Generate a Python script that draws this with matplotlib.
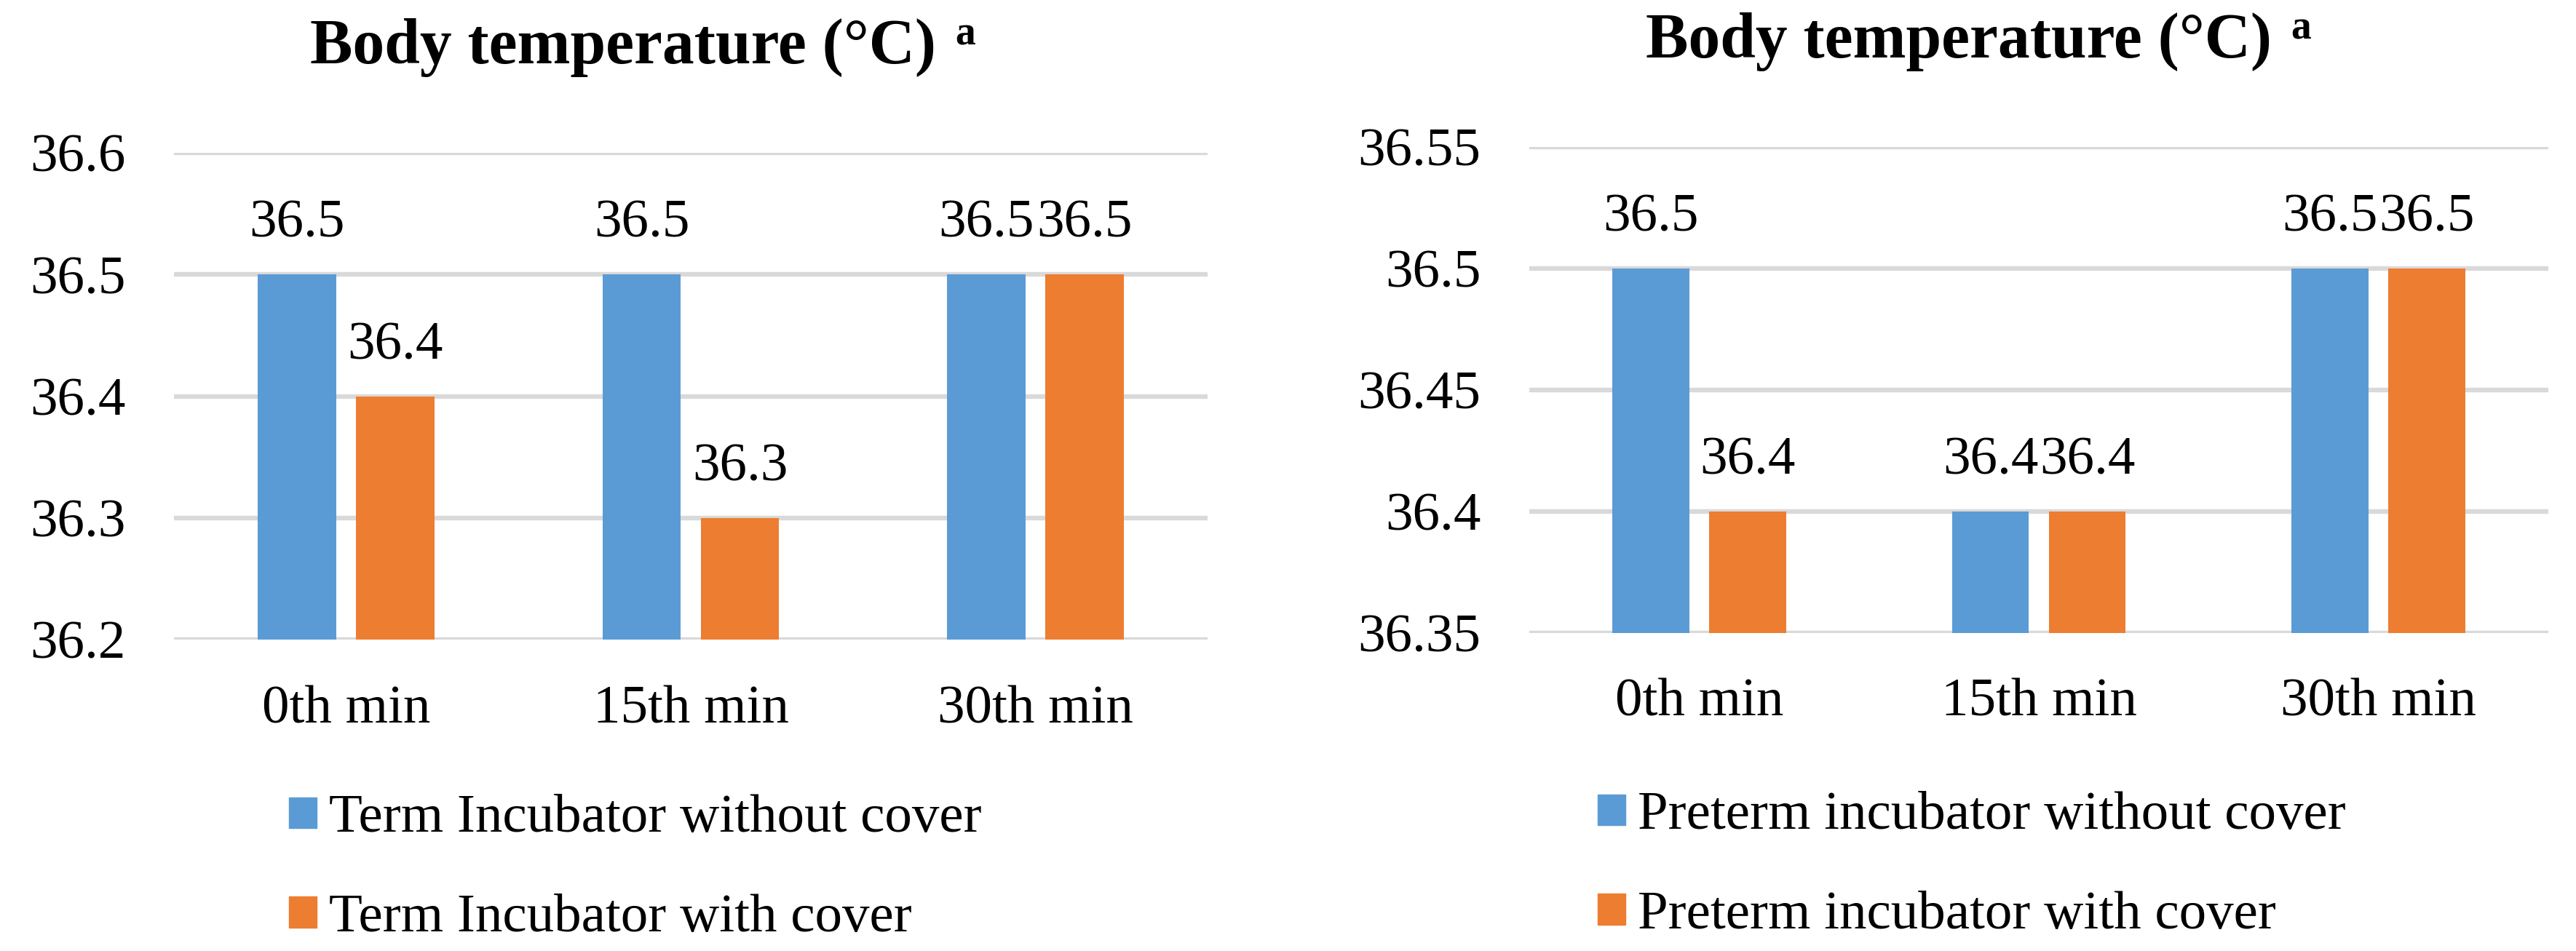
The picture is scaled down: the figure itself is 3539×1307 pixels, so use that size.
import numpy as np
import matplotlib
matplotlib.use("Agg")
import matplotlib.pyplot as plt
from matplotlib.patches import Patch

plt.rcParams['font.family'] = ['Liberation Serif', 'DejaVu Serif']

# data
times = ["0th min", "15th min", "30th min"]
term_without = [36.5, 36.5, 36.5]
term_with = [36.4, 36.3, 36.5]
preterm_without = [36.5, 36.4, 36.5]
preterm_with = [36.4, 36.4, 36.5]
term_labels = ["Term Incubator without cover", "Term Incubator with cover"]
preterm_labels = ["Preterm incubator without cover", "Preterm incubator with cover"]
term_ticks = [36.2, 36.3, 36.4, 36.5, 36.6]
preterm_ticks = [36.35, 36.4, 36.45, 36.5, 36.55]

BLUE = "#5B9BD5"
ORANGE = "#ED7D31"
GRID = "#D9D9D9"
FS = 54

W, H = 3539, 1307
fig = plt.figure(figsize=(W / 100, H / 100), dpi=100)


def draw(rect, s1, s2, labels, ticks, tick_fmt, title_x, title_base, leg_xy):
    ax = fig.add_axes(rect)
    x = np.arange(len(times))
    bw = 0.227
    off = bw / 2 + 0.029
    b1 = ax.bar(x - off, s1, bw, color=BLUE, zorder=2)
    b2 = ax.bar(x + off, s2, bw, color=ORANGE, zorder=2)
    for bars, vals in ((b1, s1), (b2, s2)):
        for r, v in zip(bars, vals):
            ax.annotate(f"{v:g}", (r.get_x() + r.get_width() / 2, v),
                        xytext=(0, 37), textcoords="offset points",
                        ha="center", va="baseline", fontsize=FS)
    ax.set_xlim(-0.5, len(times) - 0.5)
    ax.set_ylim(ticks[0], ticks[-1])
    ax.set_yticks(ticks)
    ax.set_yticklabels([tick_fmt(t) for t in ticks])
    ax.set_xticks(x)
    ax.set_xticklabels(times)
    ax.tick_params(axis="y", length=0, pad=48, labelsize=FS)
    ax.tick_params(axis="x", length=0, pad=45, labelsize=FS)
    for sp in ax.spines.values():
        sp.set_visible(False)
    ax.yaxis.grid(True, color=GRID, linewidth=4.6, zorder=0)
    ax.set_axisbelow(True)

    fig.text(title_x, title_base, "Body temperature (°C)", fontsize=63,
             fontweight="bold", ha="left", va="baseline")
    # superscript a after the title
    fig.canvas.draw()
    t = fig.texts[-1]
    bb = t.get_window_extent()
    fig.text((bb.x1 + 26) / W, title_base + 25 / H, "a", fontsize=40,
             fontweight="bold", ha="left", va="baseline")

    handles = [Patch(color=BLUE), Patch(color=ORANGE)]
    fig.legend(handles, labels, loc="upper left", bbox_to_anchor=leg_xy,
               frameon=False, fontsize=FS, handlelength=0.5, handleheight=0.5,
               handletextpad=0.24, labelspacing=0.92, borderpad=0,
               borderaxespad=0)
    return ax


draw([239 / W, 1 - 879 / H, 1420 / W, 669 / H], term_without, term_with,
     term_labels, term_ticks, lambda v: f"{v:.1f}",
     426 / W, 1 - 87 / H, (397 / W, 1 - 1092 / H))
draw([2101 / W, 1 - 870 / H, 1400 / W, 668 / H], preterm_without, preterm_with,
     preterm_labels, preterm_ticks, lambda v: f"{v:g}",
     2261 / W, 1 - 79 / H, (2195 / W, 1 - 1088 / H))

fig.savefig("out.png", dpi=100)
